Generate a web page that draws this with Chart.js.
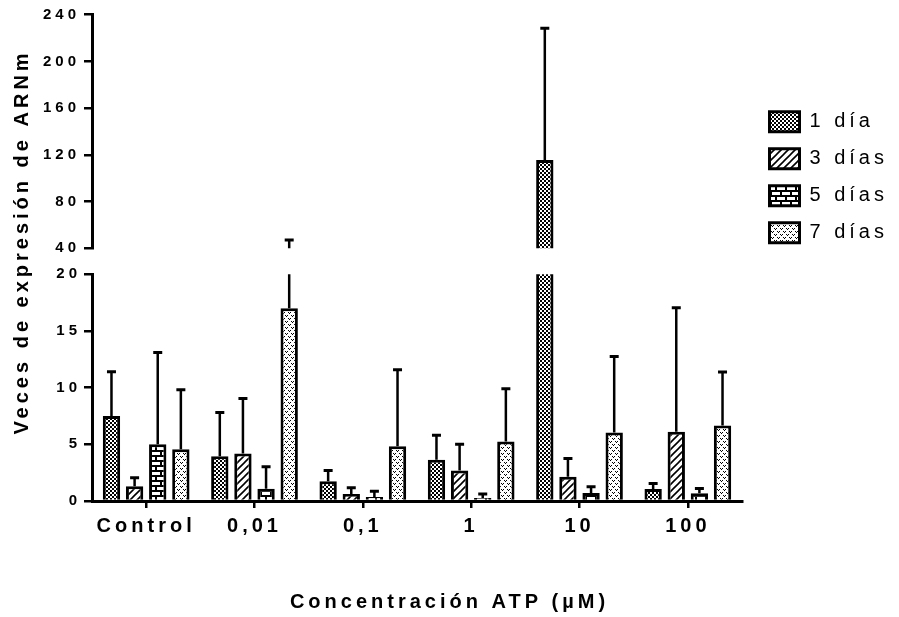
<!DOCTYPE html>
<html>
<head>
<meta charset="utf-8">
<script src="https://cdn.jsdelivr.net/npm/chart.js@4.4.1/dist/chart.umd.min.js"></script>
<style>
  body { margin: 0; background: #fff; }
  #wrap { position: relative; width: 899px; height: 617px; }
  #wrap canvas { position: absolute; left: 0; top: 0; }
</style>
</head>
<body>
<div id="wrap">
  <canvas id="lower" width="899" height="617"></canvas>
  <canvas id="upper" width="899" height="617"></canvas>
</div>
<script>
// ATP concentrations on the x axis
const categories = ['Control', '0,01', '0,1', '1', '10', '100'];
const seriesNames = ['1 día', '3 días', '5 días', '7 días'];

// mean fold change for each day
const dia1 = [7.5, 3.95, 1.75, 3.65, 115.6, 1.05];
const dia3 = [1.3, 4.2, 0.62, 2.7, 2.15, 6.1];
const dia5 = [5.0, 1.07, 0.36, 0.27, 0.71, 0.68];
const dia7 = [4.56, 17.0, 4.83, 5.25, 6.05, 6.67];

// upper error bars (SD)
const dia1Err = [3.9, 3.85, 0.95, 2.15, 112.7, 0.5];
const dia3Err = [0.75, 4.85, 0.55, 2.3, 1.6, 10.95];
const dia5Err = [8.1, 1.95, 0.5, 0.35, 0.55, 0.42];
const dia7Err = [5.25, 30.1, 6.75, 4.65, 6.7, 4.72];

// broken y axis: two segments
const lowerTicks = [0, 5, 10, 15, 20];
const upperTicks = [40, 80, 120, 160, 200, 240];

const xTitle = 'Concentración ATP (µM)';
const yTitle = 'Veces de expresión de ARNm';

const fam = "'Liberation Sans', Arial, sans-serif";
Chart.defaults.font.family = fam;
Chart.defaults.color = '#000';

// fill patterns like the original figure
function makePattern(kind) {
  const c = document.createElement('canvas');
  if (kind === 'check') { c.width = 4; c.height = 4; }
  if (kind === 'hatch') { c.width = 7; c.height = 7; }
  if (kind === 'brick') { c.width = 10; c.height = 10; }
  if (kind === 'dots') { c.width = 6; c.height = 6; }
  const g = c.getContext('2d');
  g.fillStyle = '#fff';
  g.fillRect(0, 0, c.width, c.height);
  g.fillStyle = '#000';
  g.strokeStyle = '#000';
  if (kind === 'check') {
    g.fillRect(0, 0, 2, 2);
    g.fillRect(2, 2, 2, 2);
  } else if (kind === 'hatch') {
    g.lineWidth = 1.6;
    g.beginPath();
    g.moveTo(-1, 8); g.lineTo(8, -1);
    g.moveTo(-1, 1); g.lineTo(1, -1);
    g.moveTo(6, 8); g.lineTo(8, 6);
    g.stroke();
  } else if (kind === 'brick') {
    g.fillRect(0, 0, 10, 2);
    g.fillRect(0, 5, 10, 2);
    g.fillRect(0, 2, 2, 3);
    g.fillRect(5, 7, 2, 3);
  } else if (kind === 'dots') {
    g.fillRect(0, 0, 1, 1); g.fillRect(2, 0, 1, 1); g.fillRect(1, 1, 1, 1);
    g.fillRect(3, 3, 1, 1); g.fillRect(5, 3, 1, 1); g.fillRect(4, 4, 1, 1);
  }
  return g.createPattern(c, 'repeat');
}

const fills = [makePattern('check'), makePattern('hatch'), makePattern('brick'), makePattern('dots')];
const values = [dia1, dia3, dia5, dia7];
const errs = [dia1Err, dia3Err, dia5Err, dia7Err];

function makeDatasets() {
  return seriesNames.map((name, i) => ({
    label: name,
    data: values[i],
    errors: errs[i],
    backgroundColor: fills[i],
    borderColor: '#000',
    borderWidth: 3,
    clip: 0,
    barPercentage: 0.75,
    categoryPercentage: 0.854
  }));
}

// only the upper whisker is drawn, clipped to the segment
const errorBars = {
  id: 'errorBars',
  afterDatasetsDraw(chart) {
    const {ctx, chartArea: a} = chart;
    const y = chart.scales.y;
    ctx.save();
    ctx.beginPath();
    ctx.rect(a.left, a.top, a.right - a.left, a.bottom - a.top);
    ctx.clip();
    ctx.strokeStyle = '#000';
    chart.data.datasets.forEach((ds, i) => {
      chart.getDatasetMeta(i).data.forEach((bar, j) => {
        const y0 = y.getPixelForValue(ds.data[j]);
        const y1 = y.getPixelForValue(ds.data[j] + ds.errors[j]);
        ctx.lineWidth = 2.5;
        ctx.beginPath();
        ctx.moveTo(bar.x, y0);
        ctx.lineTo(bar.x, y1);
        ctx.stroke();
        ctx.lineWidth = 3;
        ctx.beginPath();
        ctx.moveTo(bar.x - 4.5, y1);
        ctx.lineTo(bar.x + 4.5, y1);
        ctx.stroke();
      });
    });
    ctx.restore();
  }
};

function spacing(px) {
  return {
    id: 'spacing',
    beforeUpdate(c) { c.ctx.letterSpacing = px; },
    beforeDraw(c) { c.ctx.letterSpacing = px; }
  };
}

const yTitlePlugin = {
  id: 'yTitle',
  afterDraw(chart) {
    const ctx = chart.ctx;
    ctx.save();
    ctx.letterSpacing = '4px';
    ctx.font = 'bold 20px ' + fam;
    ctx.fillStyle = '#000';
    ctx.translate(22, 242);
    ctx.rotate(-Math.PI / 2);
    ctx.textAlign = 'center';
    ctx.textBaseline = 'middle';
    ctx.fillText(yTitle, 0, 0);
    ctx.restore();
  }
};

// legend sits right of the plot, fixed width so both segments line up
const legendPlace = {
  id: 'legendPlace',
  beforeLayout(chart) {
    const lg = chart.legend;
    if (lg && !lg.patched) {
      const fit = lg.fit;
      lg.fit = function () { fit.call(this); this.width = 157; };
      lg.patched = true;
    }
  },
  afterLayout(chart) {
    const lg = chart.legend;
    lg.left += 10.5; lg.right += 10.5;
    lg.top += 11.4; lg.bottom += 11.4;
  }
};

function yScale(ticks, padL) {
  return {
    min: ticks[0],
    max: ticks[ticks.length - 1],
    afterBuildTicks(s) { s.ticks = ticks.map(v => ({value: v})); },
    grid: { drawOnChartArea: false, tickLength: 8, color: '#000', lineWidth: 2.5 },
    border: { color: '#000', width: 3 },
    ticks: { color: '#000', font: { size: 15, weight: 'bold' }, padding: padL },
    afterFit(s) { s.width = 92; }
  };
}

// lower segment 0-20 with the category axis
new Chart(document.getElementById('lower'), {
  type: 'bar',
  data: { labels: categories, datasets: makeDatasets() },
  options: {
    responsive: false,
    animation: false,
    devicePixelRatio: 1,
    layout: { padding: { top: 274.3, right: 0, left: 0, bottom: 0 } },
    scales: {
      x: {
        grid: { drawOnChartArea: false, offset: false, tickLength: 7, color: '#000', lineWidth: 2.5 },
        border: { color: '#000', width: 3 },
        ticks: { color: '#000', font: { size: 20, weight: 'bold' }, padding: 6 },
        afterFit(s) { s.height = 89; }
      },
      y: yScale(lowerTicks, 3),
      // empty spacer on the right, same width as the legend column
      side: {
        position: 'right',
        grid: { display: false },
        border: { display: false },
        ticks: { display: false },
        afterFit(s) { s.width = 157; }
      }
    },
    plugins: {
      legend: { display: false },
      tooltip: { enabled: false },
      title: {
        display: true,
        position: 'bottom',
        text: xTitle,
        color: '#000',
        font: { size: 20, weight: 'bold' },
        padding: { top: 0, bottom: 3 }
      }
    }
  },
  plugins: [errorBars, spacing('4px')]
});

// upper segment 40-240, legend and y title
new Chart(document.getElementById('upper'), {
  type: 'bar',
  data: { labels: categories, datasets: makeDatasets() },
  options: {
    responsive: false,
    animation: false,
    devicePixelRatio: 1,
    layout: { padding: { top: 14.7, bottom: 368.7, left: 0, right: 0 } },
    scales: {
      x: { display: false },
      y: yScale(upperTicks, 4)
    },
    plugins: {
      tooltip: { enabled: false },
      legend: {
        position: 'right',
        align: 'end',
        labels: { boxWidth: 30, boxHeight: 20, padding: 17, color: '#000', font: { size: 20 } }
      }
    }
  },
  plugins: [errorBars, spacing('4px'), yTitlePlugin, legendPlace]
});
</script>
</body>
</html>
